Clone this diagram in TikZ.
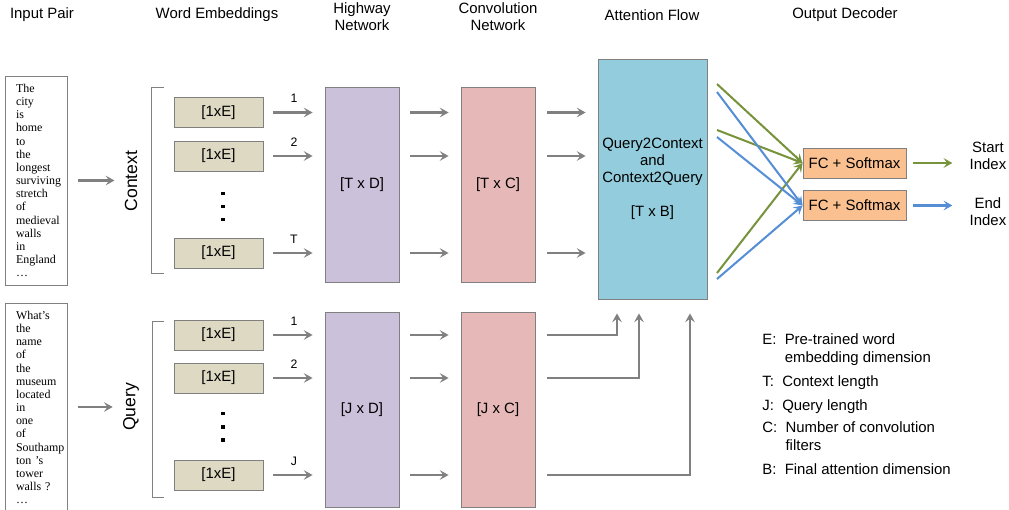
\documentclass[tikz,border=0pt]{standalone}
\usepackage{fontspec}
\setmainfont{Liberation Sans}
\newfontfamily\wordfont{Liberation Serif}
\usetikzlibrary{arrows.meta, positioning, calc}

\definecolor{lineg}{HTML}{808080}
\definecolor{embtan}{HTML}{DDD9C3}
\definecolor{hwlav}{HTML}{CCC1DA}
\definecolor{cvpink}{HTML}{E6B9B8}
\definecolor{attblue}{HTML}{93CDDD}
\definecolor{fcorange}{HTML}{FAC090}
\definecolor{startgreen}{HTML}{77933C}
\definecolor{endblue}{HTML}{558ED5}

\tikzset{
  txt/.style={font=\fontsize{8.5}{9.7}\selectfont, inner sep=0pt, align=center},
  box/.style={txt, draw=lineg, line width=0.5pt},
  inbox/.style={draw=lineg, line width=0.5pt, align=left, text width=0.8cm, inner xsep=0.22cm,
    minimum height=4.18cm, font=\wordfont\fontsize{6.8}{7.5}\selectfont},
  embbox/.style={box, fill=embtan, minimum width=1.78cm, minimum height=0.6cm},
  hwbox/.style={box, fill=hwlav, minimum width=1.48cm, minimum height=3.9cm},
  cvbox/.style={box, fill=cvpink, minimum width=1.48cm, minimum height=3.9cm},
  fcbox/.style={box, fill=fcorange, minimum width=2.06cm, minimum height=0.6cm},
  side/.style={font=\fontsize{10}{12}\selectfont, inner sep=0pt, rotate=90},
  idx/.style={font=\fontsize{7}{8}\selectfont, inner sep=0pt},
  flow/.style={draw=lineg, line width=1.15pt, -{Stealth[length=5pt, width=5.5pt, inset=2pt]}},
  pick/.style={line width=1.15pt, -{Stealth[length=5pt, width=5.5pt, inset=2pt]}},
  bracket/.style={draw=lineg, line width=0.5pt},
  leg/.style={txt, align=left, anchor=base west, font=\fontsize{8.5}{10.2}\selectfont},
}

\begin{document}
\begin{tikzpicture}[x=0.02cm, y=-0.02cm]
  \path[use as bounding box, clip] (0,0) rectangle (1009,510);

  % column titles
  \node[txt] (hin) at (42,15) {Input Pair};
  \node[txt] (hemb) at (217,15) {Word Embeddings};
  \node[txt] (hhw) at (362,17) {Highway\\Network};
  \node[txt] (hcv) at (498,17) {Convolution\\Network};
  \node[txt] (hatt) at (652,15) {Attention Flow};
  \node[txt] (hout) at (845,15) {Output Decoder};

  % input pair
  \node[inbox] (ctxin) at (36,180.5) {The\\city\\is\\home\\to\\the\\longest\\surviving\\stretch\\of\\medieval\\walls\\in\\England\\…};
  \node[inbox] (qryin) at (36,407.5) {What’s\\the\\name\\of\\the\\museum\\located\\in\\one\\of\\Southamp\\ton ’s\\tower\\walls ?\\…};

  \node[side] (ctxlbl) at (131,181) {Context};
  \node[side] (qrylbl) at (131,407) {Query};
  \draw[flow, shorten <=0.22cm, shorten >=0.2cm] (ctxin.east) -- (ctxin.east -| ctxlbl.north);
  \draw[flow, shorten <=0.22cm, shorten >=0.2cm] (qryin.east |- qrylbl) -- (qrylbl.north);

  \draw[bracket] (164,87) -- (151,87) -- (151,273) -- (164,273);
  \draw[bracket] (164,321) -- (152,321) -- (152,497) -- (164,497);

  % word embeddings
  \node[embbox] (ce1) at (218.5,112.5) {[1xE]};
  \node[embbox] (ce2) at (218.5,156) {[1xE]};
  \node[embbox] (ceT) at (218.5,253) {[1xE]};
  \node[embbox] (qe1) at (218.5,335) {[1xE]};
  \node[embbox] (qe2) at (218.5,378) {[1xE]};
  \node[embbox] (qeJ) at (218.5,475) {[1xE]};
  \foreach \y in {192,205,218,412,425,438}
    \fill (221,\y) rectangle +(3.5,3.5);

  % highway and convolution layers
  \node[hwbox] (hwc) at (362,184.5) {[T x D]};
  \node[hwbox] (hwq) at (362,409.5) {[J x D]};
  \node[cvbox] (cvc) at (498,184.5) {[T x C]};
  \node[cvbox] (cvq) at (498,409.5) {[J x C]};

  \draw[flow, shorten <=0.2cm, shorten >=0.24cm] (ce1.east) -- (ce1.east -| hwc.west) node[midway, above=5pt, idx] {1};
  \draw[flow, shorten <=0.2cm, shorten >=0.24cm] (ce2.east) -- (ce2.east -| hwc.west) node[midway, above=5pt, idx] {2};
  \draw[flow, shorten <=0.2cm, shorten >=0.24cm] (ceT.east) -- (ceT.east -| hwc.west) node[midway, above=5pt, idx] {T};
  \draw[flow, shorten <=0.2cm, shorten >=0.24cm] (qe1.east) -- (qe1.east -| hwq.west) node[midway, above=5pt, idx] {1};
  \draw[flow, shorten <=0.2cm, shorten >=0.24cm] (qe2.east) -- (qe2.east -| hwq.west) node[midway, above=5pt, idx] {2};
  \draw[flow, shorten <=0.2cm, shorten >=0.24cm] (qeJ.east) -- (qeJ.east -| hwq.west) node[midway, above=5pt, idx] {J};

  \foreach \e in {ce1,ce2,ceT}
    \draw[flow, shorten <=0.22cm, shorten >=0.24cm] (hwc.east |- \e) -- (cvc.west |- \e);
  \foreach \e in {qe1,qe2,qeJ}
    \draw[flow, shorten <=0.22cm, shorten >=0.24cm] (hwq.east |- \e) -- (cvq.west |- \e);

  % attention flow
  \node[box, fill=attblue, minimum width=2.18cm, minimum height=4.8cm] (att) at (652.5,179)
    {Query2Context\\and\\Context2Query\\~\\{[T x B]}};
  \foreach \e in {ce1,ce2,ceT}
    \draw[flow, shorten <=0.24cm, shorten >=0.24cm] (cvc.east |- \e) -- (att.west |- \e);
  \draw[flow, shorten <=0.24cm, shorten >=0.28cm] (cvq.east |- qe1) -| ($(att.south)+(-35.5,0)$);
  \draw[flow, shorten <=0.24cm, shorten >=0.28cm] (cvq.east |- qe2) -| ($(att.south)+(-13.5,0)$);
  \draw[flow, shorten <=0.24cm, shorten >=0.28cm] (cvq.east |- qeJ) -| ($(att.south)+(37.5,0)$);

  % output decoder
  \node[fcbox] (fcs) at (854.5,163) {FC + Softmax};
  \node[fcbox] (fce) at (854.5,205.5) {FC + Softmax};
  \coordinate (gs1) at (717,84);
  \coordinate (gs2) at (717,130);
  \coordinate (gs3) at (717,273);
  \coordinate (be1) at (717,92);
  \coordinate (be2) at (717,137);
  \coordinate (be3) at (717,279);
  \foreach \p in {gs1,gs2,gs3}
    \draw[pick, startgreen] (\p) -- (fcs.west);
  \foreach \p in {be1,be2,be3}
    \draw[pick, endblue] (\p) -- (fce.west);

  \node[txt] (outs) at (988,156) {Start\\Index};
  \node[txt] (oute) at (988,212) {End\\Index};
  \draw[pick, startgreen, shorten <=0.14cm, shorten >=0.34cm] (fcs.east) -- (fcs.east -| outs.west);
  \draw[pick, endblue, shorten <=0.14cm, shorten >=0.34cm] (fce.east) -- (fce.east -| outs.west);

  % dimensions (base is the last line of each entry)
  \node[leg] (legE) at (762,362.3) {E:\ \ Pre-trained word\\\phantom{E:\ \ }embedding dimension};
  \node[leg] (legT) at (762,386.3) {T:\ \ Context length};
  \node[leg] (legJ) at (762,410.3) {J:\ \ Query length};
  \node[leg] (legC) at (762,450.3) {C:\ \ Number of convolution\\\phantom{C:\ \ }filters};
  \node[leg] (legB) at (762,474.3) {B:\ \ Final attention dimension};
\end{tikzpicture}
\end{document}
